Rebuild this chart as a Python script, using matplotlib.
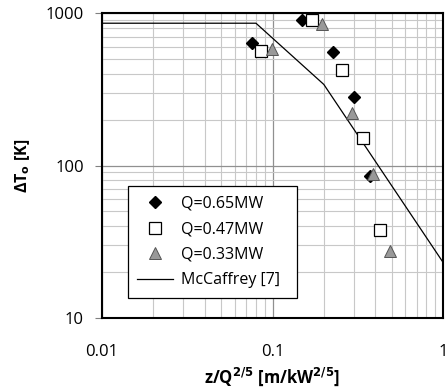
import matplotlib
matplotlib.use("Agg")
import matplotlib.pyplot as plt
from matplotlib.ticker import LogLocator, NullFormatter, FixedLocator, FixedFormatter

plt.rcParams['font.family'] = ['Open Sans', 'DejaVu Sans']

# Data
x_065 = [0.0755, 0.149, 0.2255, 0.302, 0.373]
y_065 = [634, 902, 559, 280, 84.7]
x_047 = [0.0853, 0.171, 0.256, 0.340, 0.427]
y_047 = [562, 902, 426, 151, 37.5]
x_033 = [0.0989, 0.196, 0.294, 0.388, 0.489]
y_033 = [581, 849, 220, 87.3, 27.7]
x_mc = [0.01, 0.08, 0.2, 1.0]
y_mc = [857, 857, 340, 23.2]

x_ticks = [0.01, 0.1, 1]
x_ticklabels = ['0.01', '0.1', '1']
y_ticks = [10, 100, 1000]
y_ticklabels = ['10', '100', '1000']

fig = plt.figure(figsize=(4.45, 3.9), dpi=100)
ax = fig.add_axes([102/445, 1-318/390, 341/445, 305/390])
ax.set_xscale('log')
ax.set_yscale('log')
ax.set_xlim(0.01, 1)
ax.set_ylim(10, 1000)

ax.grid(True, which='minor', color='#c8c8c8', linewidth=0.8)
ax.grid(True, which='major', color='#909090', linewidth=0.9)
ax.set_axisbelow(True)

ax.plot(x_mc, y_mc, color='black', linewidth=0.9, label='McCaffrey [7]', zorder=3)
ax.plot(x_065, y_065, linestyle='none', marker='D', markersize=6.5, color='black',
        markeredgecolor='black', label='Q=0.65MW', zorder=4)
ax.plot(x_047, y_047, linestyle='none', marker='s', markersize=8.5, markerfacecolor='white',
        markeredgecolor='black', markeredgewidth=0.9, label='Q=0.47MW', zorder=4)
ax.plot(x_033, y_033, linestyle='none', marker='^', markersize=9, markerfacecolor='#999999',
        markeredgecolor='#555555', markeredgewidth=0.7, label='Q=0.33MW', zorder=4)

ax.xaxis.set_major_locator(FixedLocator(x_ticks))
ax.xaxis.set_major_formatter(FixedFormatter(x_ticklabels))
ax.yaxis.set_major_locator(FixedLocator(y_ticks))
ax.yaxis.set_major_formatter(FixedFormatter(y_ticklabels))
ax.xaxis.set_minor_locator(LogLocator(base=10, subs=range(2, 10)))
ax.yaxis.set_minor_locator(LogLocator(base=10, subs=range(2, 10)))
ax.xaxis.set_minor_formatter(NullFormatter())
ax.yaxis.set_minor_formatter(NullFormatter())
ax.tick_params(which='minor', length=0)
ax.tick_params(which='major', length=5, color='#808080', labelsize=12, pad=8)
ax.tick_params(axis='x', which='major', length=0, pad=19)

for s in ax.spines.values():
    s.set_color('black')
    s.set_linewidth(1.5)

ax.set_xlabel(r'z/Q$^{\mathbf{2/5}}$ [m/kW$^{\mathbf{2/5}}$]', fontweight='bold', fontsize=12, labelpad=4)
ax.set_ylabel(r'ΔT$_{\mathbf{o}}$ [K]', fontweight='bold', fontsize=11.5, labelpad=10)

handles, labels = ax.get_legend_handles_labels()
order = [1, 2, 3, 0]
leg = ax.legend([handles[i] for i in order], [labels[i] + '  ' for i in order],
                loc='lower left', bbox_to_anchor=(0.076, 0.066), fontsize=11.5,
                frameon=True, fancybox=False, edgecolor='black', framealpha=1,
                borderaxespad=0, handlelength=2.2, labelspacing=0.6, borderpad=0.6,
                handletextpad=0.5)
leg.get_frame().set_linewidth(0.9)

fig.savefig('out.png', dpi=100)
